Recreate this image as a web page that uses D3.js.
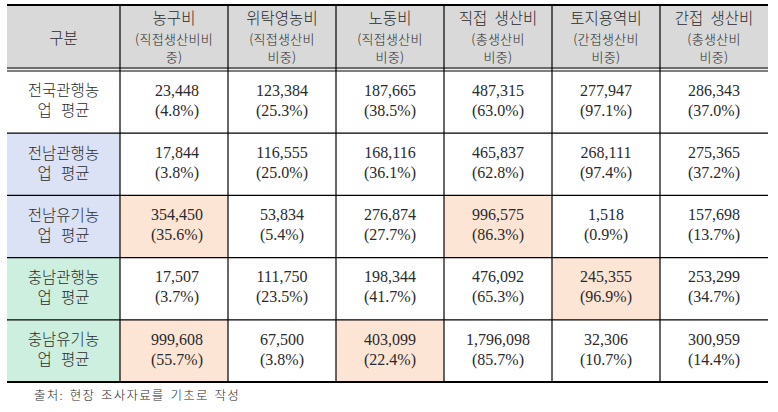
<!DOCTYPE html>
<html><head><meta charset="utf-8">
<script src="https://cdn.jsdelivr.net/npm/d3@7"></script>
<style>
html,body{margin:0;padding:0;background:#fff;}
svg{display:block;}
</style></head>
<body>
<svg id="c" width="778" height="412"></svg>
<script>
// ---- data ----
const rowLabels = [["전국관행농","업 평균"],["전남관행농","업 평균"],["전남유기농","업 평균"],["충남관행농","업 평균"],["충남유기농","업 평균"]];
const headerTitle = "구분";
const columns = ["농구비","위탁영농비","노동비","직접 생산비","토지용역비","간접 생산비"];
const columnSubs = [["(직접생산비비","중)"],["(직접생산비","비중)"],["(직접생산비","비중)"],["(총생산비","비중)"],["(간접생산비","비중)"],["(총생산비","비중)"]];
const farmEquipment = [23448,17844,354450,17507,999608];
const farmEquipmentPct = [4.8,3.8,35.6,3.7,55.7];
const consignment = [123384,116555,53834,111750,67500];
const consignmentPct = [25.3,25.0,5.4,23.5,3.8];
const labor = [187665,168116,276874,198344,403099];
const laborPct = [38.5,36.1,27.7,41.7,22.4];
const directCost = [487315,465837,996575,476092,1796098];
const directCostPct = [63.0,62.8,86.3,65.3,85.7];
const landService = [277947,268111,1518,245355,32306];
const landServicePct = [97.1,97.4,0.9,96.9,10.7];
const indirectCost = [286343,275365,157698,253299,300959];
const indirectCostPct = [37.0,37.2,13.7,34.7,14.4];
const rowGroup = [0,1,1,2,2];          // label-cell shading group
const highlighted = [[2,0],[4,0],[2,3],[4,2],[3,4]]; // [row, col]
const sourceNote = "출처: 현장 조사자료를 기초로 작성";

const values = [farmEquipment,consignment,labor,directCost,landService,indirectCost];
const pcts = [farmEquipmentPct,consignmentPct,laborPct,directCostPct,landServicePct,indirectCostPct];

// ---- layout ----
const svg = d3.select("#c");
const xLeft = 7, firstColRight = 120, xRight = 768;
const yTop = 5, headerBottom = 69.5, tableBottom = 382;
const x = d3.scaleBand().domain(d3.range(columns.length)).range([firstColRight, xRight]);
const y = d3.scaleBand().domain(d3.range(rowLabels.length)).range([headerBottom + 1.5, tableBottom]);
const groupFill = ["#ffffff","#dbe2f5","#cdefdf"];
const hiFill = "#fde5d6";
const headFill = "#d9d9d9";
const serif = "'Liberation Serif','DejaVu Serif',serif";
const kr = "'Noto Sans CJK KR','Noto Sans CJK SC',sans-serif";
const krW = 300;
const ink = "#2a2a2a";
const fmt = d3.format(",");

// header background
svg.append("rect").attr("x",xLeft).attr("y",yTop).attr("width",xRight-xLeft).attr("height",headerBottom-yTop).attr("fill",headFill);

// first column fills
svg.selectAll("rect.lab").data(rowLabels).join("rect")
  .attr("x",xLeft).attr("y",(d,i)=>y(i)).attr("width",firstColRight-xLeft).attr("height",y.bandwidth())
  .attr("fill",(d,i)=>groupFill[rowGroup[i]]);

// highlighted cells
svg.selectAll("rect.hi").data(highlighted).join("rect")
  .attr("x",d=>x(d[1])).attr("y",d=>y(d[0])).attr("width",x.bandwidth()).attr("height",y.bandwidth())
  .attr("fill",hiFill);

// header texts
svg.append("text").attr("x",(xLeft+firstColRight)/2).attr("y",40).attr("text-anchor","middle")
  .attr("dominant-baseline","middle").attr("font-family",kr).attr("font-weight",krW).attr("font-size",15.5).attr("fill",ink).text(headerTitle);
columns.forEach((c,i)=>{
  const cx = x(i)+x.bandwidth()/2;
  svg.append("text").attr("x",cx).attr("y",20).attr("text-anchor","middle").attr("dominant-baseline","middle")
    .attr("font-family",kr).attr("font-weight",krW).attr("font-size",15.5).attr("fill",ink).attr("word-spacing","4px").text(c);
  columnSubs[i].forEach((s,j)=>{
    svg.append("text").attr("x",cx).attr("y",40+j*18).attr("text-anchor","middle").attr("dominant-baseline","middle")
      .attr("font-family",kr).attr("font-weight",krW).attr("font-size",13).attr("letter-spacing","0.3px").attr("fill",ink).text(s);
  });
});

// row labels
rowLabels.forEach((lab,i)=>{
  const cy = y(i)+y.bandwidth()/2;
  lab.forEach((t,j)=>{
    svg.append("text").attr("x",(xLeft+firstColRight)/2).attr("y",cy-10+j*20).attr("text-anchor","middle")
      .attr("dominant-baseline","middle").attr("font-family",kr).attr("font-weight",krW).attr("font-size",15.5).attr("fill",ink)
      .attr("word-spacing", j===1 ? "6px" : "0px").text(t);
  });
});

// data cells
values.forEach((col,ci)=>{
  col.forEach((v,ri)=>{
    const cx = x(ci)+x.bandwidth()/2 + (ci===0?3:0);
    const cy = y(ri)+y.bandwidth()/2;
    svg.append("text").attr("x",cx).attr("y",cy-10).attr("text-anchor","middle").attr("dominant-baseline","middle")
      .attr("font-family",serif).attr("font-size",16).attr("fill",ink).text(fmt(v));
    svg.append("text").attr("x",cx).attr("y",cy+10).attr("text-anchor","middle").attr("dominant-baseline","middle")
      .attr("font-family",serif).attr("font-size",16).attr("fill",ink).text("("+pcts[ci][ri].toFixed(1)+"%)");
  });
});

// lines
const line = (x1,y1,x2,y2,w)=>svg.append("line").attr("x1",x1).attr("y1",y1).attr("x2",x2).attr("y2",y2)
  .attr("stroke","#000").attr("stroke-width",w);
line(xLeft,yTop,xRight,yTop,2);
line(xLeft,68,xRight,68,1.2);
line(xLeft,71,xRight,71,1.2);
y.domain().slice(1).forEach(i=>line(xLeft,y(i),xRight,y(i),1.3));
line(xLeft,tableBottom,xRight,tableBottom,2);
// verticals
line(firstColRight,yTop,firstColRight,tableBottom,1.2);
x.domain().slice(1).forEach(i=>line(x(i),yTop,x(i),tableBottom,1.2));

// source
svg.append("text").attr("x",34).attr("y",397).attr("dominant-baseline","middle")
  .attr("font-family",kr).attr("font-weight",krW).attr("font-size",12.5).attr("fill",ink).attr("letter-spacing","1.2px").attr("word-spacing","2px").text(sourceNote);
</script>
</body></html>
